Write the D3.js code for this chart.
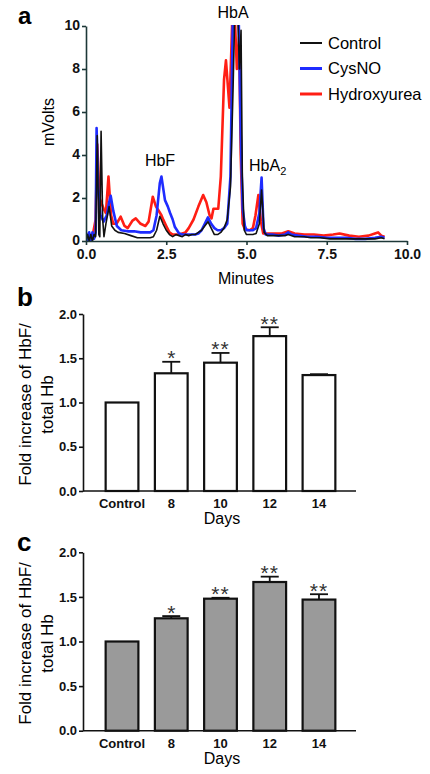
<!DOCTYPE html>
<html><head><meta charset="utf-8">
<script src="https://cdn.jsdelivr.net/npm/d3@7"></script>
<style>
html,body{margin:0;padding:0;background:#fff;}
svg{display:block;font-family:"Liberation Sans",Arial,Helvetica,sans-serif;}
</style></head>
<body>
<svg id="c" width="430" height="774"></svg>
<script>
// ---- Panel a: chromatogram (minutes, mVolts) ----
const controlT = [0.0,0.05,0.1,0.15,0.2,0.25,0.3,0.35,0.4,0.43,0.47,0.52,0.56,0.62,0.72,0.8,0.9,1.0,1.2,1.4,1.6,1.8,2.0,2.1,2.2,2.3,2.4,2.5,2.6,2.7,2.8,2.9,3.0,3.1,3.2,3.3,3.4,3.5,3.6,3.7,3.8,3.9,4.0,4.1,4.2,4.3,4.4,4.5,4.58,4.64,4.72,4.78,4.83,4.87,4.93,5.0,5.1,5.2,5.3,5.4,5.47,5.55,5.65,5.8,6.0,6.2,6.3,6.5,6.8,7.0,7.3,7.6,7.9,8.2,8.5,8.8,9.0,9.2,9.3];
const controlV = [0,0.3,0,0.3,0,0.3,0.2,4.9,0.3,0.2,5.1,1.0,0.2,0.8,1.6,0.7,0.5,0.4,0.35,0.25,0.15,0.15,0.15,0.2,0.5,1.15,0.8,0.5,0.3,0.2,0.3,0.25,0.2,0.3,0.25,0.3,0.3,0.4,0.5,0.7,0.9,0.6,0.3,0.3,0.4,0.6,1.0,2.5,7,11,11,8,9.8,3,0.5,0.3,0.3,0.3,0.35,0.8,2.37,0.4,0.25,0.25,0.25,0.25,0.3,0.2,0.2,0.15,0.15,0.1,0.1,0.1,0.1,0.1,0.1,0.15,0.1];
const cysnoT = [0.0,0.05,0.1,0.15,0.2,0.25,0.3,0.33,0.38,0.45,0.55,0.65,0.72,0.77,0.85,0.96,1.1,1.3,1.5,1.7,1.9,2.0,2.1,2.2,2.3,2.35,2.46,2.55,2.62,2.7,2.77,2.9,3.0,3.2,3.4,3.5,3.6,3.7,3.8,3.9,4.0,4.1,4.2,4.3,4.4,4.5,4.58,4.64,4.75,4.82,4.88,4.95,5.0,5.1,5.2,5.3,5.4,5.47,5.53,5.6,5.8,6.0,6.2,6.3,6.4,6.6,6.9,7.2,7.5,7.8,8.1,8.4,8.7,9.0,9.2,9.3];
const cysnoV = [0.4,0,0.4,0,0.4,0.1,0.4,5.25,2.5,1.2,0.9,1.2,1.8,2.1,1.4,0.7,0.5,0.45,0.45,0.4,0.4,0.4,0.5,1.2,2.7,3.0,1.9,1.6,1.3,1.0,0.65,0.35,0.3,0.3,0.3,0.35,0.5,0.8,1.1,0.8,0.6,0.5,0.5,0.6,0.8,3,11,11,11,5,1.5,0.7,0.5,0.5,0.5,0.6,1.3,2.95,0.6,0.3,0.3,0.25,0.3,0.4,0.3,0.25,0.2,0.2,0.15,0.15,0.15,0.1,0.1,0.15,0.2,0.15];
const hydroxyT = [0.0,0.2,0.3,0.35,0.42,0.55,0.62,0.7,0.78,0.85,0.95,1.08,1.2,1.3,1.45,1.55,1.7,1.85,1.95,2.08,2.18,2.25,2.35,2.41,2.5,2.6,2.7,2.9,3.1,3.2,3.35,3.5,3.65,3.75,3.85,3.91,3.97,4.12,4.2,4.3,4.36,4.47,4.53,4.57,4.62,4.7,4.77,4.82,4.88,4.95,5.1,5.2,5.28,5.37,5.45,5.52,5.7,5.9,6.1,6.3,6.5,6.8,7.1,7.4,7.7,7.9,8.2,8.5,8.8,9.0,9.1,9.2,9.3];
const hydroxyV = [0.2,0.2,1.0,4.5,2.0,1.5,1.3,3.0,1.2,0.8,0.8,1.13,0.7,0.6,0.95,1.05,0.8,0.7,0.9,2.06,1.6,1.44,1.2,0.98,0.7,0.4,0.3,0.3,0.4,0.6,1.0,1.6,2.14,1.8,1.2,1.05,1.5,1.5,3,7.5,8.4,6.2,9,11,11,8,9.5,4,0.8,0.55,0.5,0.6,1.2,2.14,0.9,0.35,0.35,0.35,0.35,0.45,0.35,0.3,0.3,0.25,0.3,0.35,0.25,0.2,0.25,0.35,0.4,0.25,0.2];
const seriesNames = ["Control","CysNO","Hydroxyurea"];
const seriesColors = ["#111111","#1f2cff","#ff1e14"];
const aXTicks = [0,2.5,5,7.5,10];
const aYTicks = [0,2,4,6,8,10];

// ---- Panels b & c: bars ----
const dayCats = ["Control","8","10","12","14"];
const bValues = [1.0,1.33,1.45,1.75,1.31];
const bErrors = [0,0.13,0.11,0.10,0.01];
const bStars  = ["","*","**","**",""];
const cValues = [1.0,1.26,1.48,1.667,1.47];
const cErrors = [0,0.025,0.01,0.06,0.06];
const cStars  = ["","*","**","**","**"];
const barYTicks = [0,0.5,1.0,1.5,2.0];

const svg = d3.select("#c");
const FONT = '"Liberation Sans",Arial,Helvetica,sans-serif';

// ===== Panel a =====
const ax = d3.scaleLinear().domain([0,10]).range([86,407]);
const ay = d3.scaleLinear().domain([0,10]).range([241,26]);
const axisCol = "#1d3838";
svg.append("text").attr("x",18).attr("y",24).attr("font-size",24).attr("font-weight","bold").text("a");

svg.append("defs").append("clipPath").attr("id","clipA")
  .append("rect").attr("x",ax(0)).attr("y",ay(10)-1).attr("width",ax(10)-ax(0)).attr("height",ay(0)-ay(10)+2);

const line = d3.line().x(d=>ax(d[0])).y(d=>ay(d[1]));
const seriesData = [
  {t:controlT,v:controlV,w:1.6},
  {t:cysnoT,v:cysnoV,w:2.6},
  {t:hydroxyT,v:hydroxyV,w:2.6}
];
const gLines = svg.append("g").attr("clip-path","url(#clipA)");
[2,1,0].forEach(i=>{
  const s = seriesData[i];
  gLines.append("path").datum(s.t.map((t,k)=>[t,s.v[k]]))
    .attr("d",line).attr("fill","none").attr("stroke",seriesColors[i])
    .attr("stroke-width",s.w).attr("stroke-linejoin","round");
});

const gAx = svg.append("g").attr("transform",`translate(0,${ay(0)})`)
  .call(d3.axisBottom(ax).tickValues(aXTicks).tickFormat(d3.format(".1f")).tickSize(4).tickSizeOuter(0).tickPadding(4));
const gAy = svg.append("g").attr("transform",`translate(${ax(0)},0)`)
  .call(d3.axisLeft(ay).tickValues(aYTicks).tickFormat(d3.format("d")).tickSize(4).tickSizeOuter(0).tickPadding(2));
[gAx,gAy].forEach(g=>{
  g.selectAll("path,line").attr("stroke",axisCol).attr("stroke-width",1.6);
  g.selectAll("text").attr("font-size",14).attr("font-weight","bold").attr("fill","#111").attr("font-family",FONT);
});
gAy.selectAll(".tick text").attr("dy","0.28em");
svg.append("text").attr("x",246).attr("y",284).attr("text-anchor","middle").attr("font-size",16).text("Minutes");
svg.append("text").attr("transform","translate(54,122) rotate(-90)").attr("text-anchor","middle").attr("font-size",16).text("mVolts");

// peak labels
svg.append("text").attr("x",233).attr("y",18).attr("text-anchor","middle").attr("font-size",16).text("HbA");
svg.append("text").attr("x",160).attr("y",166).attr("text-anchor","middle").attr("font-size",16).text("HbF");
const hba2 = svg.append("text").attr("x",249).attr("y",171).attr("font-size",16);
hba2.append("tspan").text("HbA");
hba2.append("tspan").attr("font-size",11).attr("dy",4).text("2");

// legend
seriesNames.forEach((n,i)=>{
  const y = 43 + i*25.5;
  svg.append("line").attr("x1",300).attr("x2",322).attr("y1",y).attr("y2",y)
    .attr("stroke",seriesColors[i]).attr("stroke-width",i===0?2:3);
  svg.append("text").attr("x",328).attr("y",y).attr("dy","0.35em").attr("font-size",16.5).text(n);
});

// ===== Bar panels =====
function barPanel(letter, letterY, yTop, yBot, values, errors, stars, fill){
  const x = d3.scaleBand().domain(dayCats).range([83,358]).paddingInner(0.335).paddingOuter(0.46);
  const y = d3.scaleLinear().domain([0,2]).range([yBot,yTop]);
  svg.append("text").attr("x",17).attr("y",letterY).attr("font-size",26).attr("font-weight","bold").text(letter);
  const g = svg.append("g");
  // bars
  g.selectAll("rect.bar").data(dayCats).join("rect")
    .attr("x",d=>x(d)).attr("width",x.bandwidth())
    .attr("y",(d,i)=>y(values[i])).attr("height",(d,i)=>y(0)-y(values[i]))
    .attr("fill",fill).attr("stroke","#111").attr("stroke-width",2.2);
  // error bars
  dayCats.forEach((d,i)=>{
    if(errors[i]<=0) return;
    const cx = x(d)+x.bandwidth()/2;
    const yt = y(values[i]+errors[i]);
    g.append("line").attr("x1",cx).attr("x2",cx).attr("y1",y(values[i])).attr("y2",yt).attr("stroke","#111").attr("stroke-width",1.8);
    g.append("line").attr("x1",cx-9).attr("x2",cx+9).attr("y1",yt).attr("y2",yt).attr("stroke","#111").attr("stroke-width",1.8);
    if(stars[i]) g.append("text").attr("x",cx).attr("y",yt+3.5).attr("text-anchor","middle")
      .attr("font-size",21).attr("letter-spacing",stars[i].length>1?"1px":"0").attr("fill","#333").text(stars[i]);
  });
  const gx = svg.append("g").attr("transform",`translate(0,${yBot})`)
    .call(d3.axisBottom(x).tickSize(0).tickPadding(8));
  gx.select("path").attr("d",`M83,0H356`);
  const gy = svg.append("g").attr("transform",`translate(83,0)`)
    .call(d3.axisLeft(y).tickValues(barYTicks).tickFormat(d3.format(".1f")).tickSize(4).tickSizeOuter(0).tickPadding(2));
  [gx,gy].forEach(gg=>{
    gg.selectAll("path,line").attr("stroke","#111").attr("stroke-width",1.6);
    gg.selectAll("text").attr("font-size",13).attr("font-weight","bold").attr("fill","#111").attr("font-family",FONT);
  });
  svg.append("text").attr("x",222).attr("y",yBot+33).attr("text-anchor","middle").attr("font-size",16).text("Days");
  const lab = svg.append("text").attr("transform",`translate(31,${(yTop+yBot)/2+2}) rotate(-90)`).attr("text-anchor","middle").attr("font-size",17);
  lab.append("tspan").attr("x",0).attr("dy",0).text("Fold increase of HbF/");
  lab.append("tspan").attr("x",0).attr("dy",22).text("total Hb");
}
barPanel("b",306,314,491,bValues,bErrors,bStars,"#ffffff");
barPanel("c",551,552.3,730.7,cValues,cErrors,cStars,"#9a9a9a");
</script>
</body></html>
